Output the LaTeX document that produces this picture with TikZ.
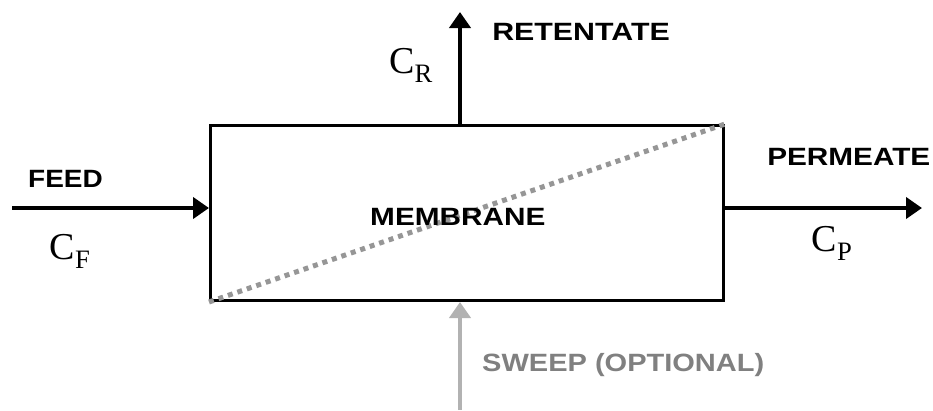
\documentclass[tikz,border=0pt]{standalone}
\usepackage{fontspec}
\setmainfont{Liberation Serif}
\setsansfont{Liberation Sans}
\usetikzlibrary{arrows.meta}
\definecolor{sweepgray}{RGB}{178,178,178}
\definecolor{sweeptext}{RGB}{128,128,128}
\definecolor{dotgray}{RGB}{150,150,150}
\tikzset{
  flow/.style={line width=4pt, -{Triangle[length=16pt,width=21pt]}},
  tag/.style={font=\sffamily\bfseries\fontsize{25}{25}\selectfont, inner sep=0pt, anchor=west, xscale=1.19},
  conc/.style={font=\fontsize{38}{38}\selectfont, inner sep=0pt},
}
\begin{document}
\begin{tikzpicture}[x=1pt, y=-1pt]
  \useasboundingbox (0,0) rectangle (933,410);
  % membrane module
  \node[draw, line width=3pt, minimum width=513pt, minimum height=175pt, inner sep=0pt, anchor=north west] (mod) at (209,124) {};
  \draw[dotgray, line width=5pt, dash pattern=on 5pt off 5pt] (mod.south west) -- (mod.north east);
  \node[tag] (mem) at (370,217) {MEMBRANE};
  % feed
  \coordinate (fin) at (12,208);
  \draw[flow] (fin) -- (fin -| mod.west);
  \node[tag, xscale=0.94] (feed) at (28,179) {FEED};
  \node[conc] (cf) at (70,251) {C\textsubscript{F}};
  % retentate
  \coordinate (rout) at (460,12);
  \draw[flow] (rout |- mod.north) -- (rout);
  \node[tag, xscale=1.02] (ret) at (492,32) {RETENTATE};
  \node[conc] (cr) at (411,65) {C\textsubscript{R}};
  % permeate
  \coordinate (pout) at (922,208);
  \draw[flow] (pout -| mod.east) -- (pout);
  \node[tag] (perm) at (767,157) {PERMEATE};
  \node[conc] (cp) at (832,243) {C\textsubscript{P}};
  % sweep
  \coordinate (sin) at (460,410);
  \draw[flow, sweepgray] (sin) -- (sin |- mod.south);
  \node[tag, text=sweeptext, xscale=0.975] (swp) at (482,365) {SWEEP (OPTIONAL)};
\end{tikzpicture}
\end{document}
